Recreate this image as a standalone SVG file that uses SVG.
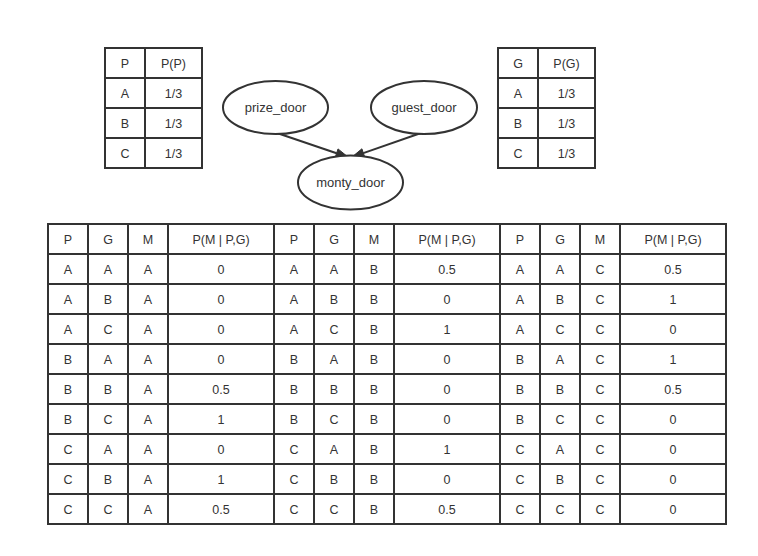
<svg xmlns="http://www.w3.org/2000/svg" width="758" height="556" viewBox="0 0 758 556">
<style>
text{font-family:"Liberation Sans",Arial,sans-serif;font-size:12.5px;fill:#333;text-anchor:middle}
.n text{font-size:13px}
.grid{fill:none;stroke:#333;stroke-width:2}
.node ellipse{fill:#fff;stroke:#333;stroke-width:2}
.edge{stroke:#333;stroke-width:2;fill:none}
.head{fill:#333;stroke:#333;stroke-width:1}
</style>
<rect width="758" height="556" fill="#fff"/>
<g id="connectors">
<line class="edge" x1="277" y1="133" x2="336.6" y2="153.2"/>
<polygon class="head" points="348,157 335.2,157.5 338,148.9"/>
<line class="edge" x1="421" y1="133" x2="363.3" y2="153.1"/>
<polygon class="head" points="352,157 361.9,148.8 364.8,157.3"/>
</g>
<g id="prize_door" class="node n">
<ellipse cx="275.5" cy="107.5" rx="52.5" ry="26.5"/>
<text x="275.5" y="112">prize_door</text>
</g>
<g id="guest_door" class="node n">
<ellipse cx="424" cy="107.5" rx="53" ry="26.5"/>
<text x="424" y="112">guest_door</text>
</g>
<g id="monty_door" class="node n">
<ellipse cx="350.5" cy="182.5" rx="52.5" ry="27"/>
<text x="350.5" y="187">monty_door</text>
</g>
<g id="table_prize">
<path class="grid" d="M105,48H202V168H105Z M145,48V168 M105,78H202 M105,108H202 M105,138H202"/>
<text x="125" y="67.5">P</text><text x="173.5" y="67.5">P(P)</text>
<text x="125" y="97.5">A</text><text x="173.5" y="97.5">1/3</text>
<text x="125" y="127.5">B</text><text x="173.5" y="127.5">1/3</text>
<text x="125" y="157.5">C</text><text x="173.5" y="157.5">1/3</text>
</g>
<g id="table_guest">
<path class="grid" d="M498,48H595V168H498Z M538,48V168 M498,78H595 M498,108H595 M498,138H595"/>
<text x="518" y="67.5">G</text><text x="566.5" y="67.5">P(G)</text>
<text x="518" y="97.5">A</text><text x="566.5" y="97.5">1/3</text>
<text x="518" y="127.5">B</text><text x="566.5" y="127.5">1/3</text>
<text x="518" y="157.5">C</text><text x="566.5" y="157.5">1/3</text>
</g>
<g id="table_monty">
<path class="grid" d="M48,224H726V524H48Z M88,224V524 M128,224V524 M168,224V524 M274,224V524 M314,224V524 M354,224V524 M394,224V524 M500,224V524 M540,224V524 M580,224V524 M620,224V524 M48,254H726 M48,284H726 M48,314H726 M48,344H726 M48,374H726 M48,404H726 M48,434H726 M48,464H726 M48,494H726"/>
<g>
<text x="68" y="243.5">P</text><text x="108" y="243.5">G</text><text x="148" y="243.5">M</text><text x="221" y="243.5">P(M | P,G)</text>
<text x="294" y="243.5">P</text><text x="334" y="243.5">G</text><text x="374" y="243.5">M</text><text x="447" y="243.5">P(M | P,G)</text>
<text x="520" y="243.5">P</text><text x="560" y="243.5">G</text><text x="600" y="243.5">M</text><text x="673" y="243.5">P(M | P,G)</text>
</g>
<g>
<text x="68" y="273.5">A</text><text x="108" y="273.5">A</text><text x="148" y="273.5">A</text><text x="221" y="273.5">0</text>
<text x="294" y="273.5">A</text><text x="334" y="273.5">A</text><text x="374" y="273.5">B</text><text x="447" y="273.5">0.5</text>
<text x="520" y="273.5">A</text><text x="560" y="273.5">A</text><text x="600" y="273.5">C</text><text x="673" y="273.5">0.5</text>
</g>
<g>
<text x="68" y="303.5">A</text><text x="108" y="303.5">B</text><text x="148" y="303.5">A</text><text x="221" y="303.5">0</text>
<text x="294" y="303.5">A</text><text x="334" y="303.5">B</text><text x="374" y="303.5">B</text><text x="447" y="303.5">0</text>
<text x="520" y="303.5">A</text><text x="560" y="303.5">B</text><text x="600" y="303.5">C</text><text x="673" y="303.5">1</text>
</g>
<g>
<text x="68" y="333.5">A</text><text x="108" y="333.5">C</text><text x="148" y="333.5">A</text><text x="221" y="333.5">0</text>
<text x="294" y="333.5">A</text><text x="334" y="333.5">C</text><text x="374" y="333.5">B</text><text x="447" y="333.5">1</text>
<text x="520" y="333.5">A</text><text x="560" y="333.5">C</text><text x="600" y="333.5">C</text><text x="673" y="333.5">0</text>
</g>
<g>
<text x="68" y="363.5">B</text><text x="108" y="363.5">A</text><text x="148" y="363.5">A</text><text x="221" y="363.5">0</text>
<text x="294" y="363.5">B</text><text x="334" y="363.5">A</text><text x="374" y="363.5">B</text><text x="447" y="363.5">0</text>
<text x="520" y="363.5">B</text><text x="560" y="363.5">A</text><text x="600" y="363.5">C</text><text x="673" y="363.5">1</text>
</g>
<g>
<text x="68" y="393.5">B</text><text x="108" y="393.5">B</text><text x="148" y="393.5">A</text><text x="221" y="393.5">0.5</text>
<text x="294" y="393.5">B</text><text x="334" y="393.5">B</text><text x="374" y="393.5">B</text><text x="447" y="393.5">0</text>
<text x="520" y="393.5">B</text><text x="560" y="393.5">B</text><text x="600" y="393.5">C</text><text x="673" y="393.5">0.5</text>
</g>
<g>
<text x="68" y="423.5">B</text><text x="108" y="423.5">C</text><text x="148" y="423.5">A</text><text x="221" y="423.5">1</text>
<text x="294" y="423.5">B</text><text x="334" y="423.5">C</text><text x="374" y="423.5">B</text><text x="447" y="423.5">0</text>
<text x="520" y="423.5">B</text><text x="560" y="423.5">C</text><text x="600" y="423.5">C</text><text x="673" y="423.5">0</text>
</g>
<g>
<text x="68" y="453.5">C</text><text x="108" y="453.5">A</text><text x="148" y="453.5">A</text><text x="221" y="453.5">0</text>
<text x="294" y="453.5">C</text><text x="334" y="453.5">A</text><text x="374" y="453.5">B</text><text x="447" y="453.5">1</text>
<text x="520" y="453.5">C</text><text x="560" y="453.5">A</text><text x="600" y="453.5">C</text><text x="673" y="453.5">0</text>
</g>
<g>
<text x="68" y="483.5">C</text><text x="108" y="483.5">B</text><text x="148" y="483.5">A</text><text x="221" y="483.5">1</text>
<text x="294" y="483.5">C</text><text x="334" y="483.5">B</text><text x="374" y="483.5">B</text><text x="447" y="483.5">0</text>
<text x="520" y="483.5">C</text><text x="560" y="483.5">B</text><text x="600" y="483.5">C</text><text x="673" y="483.5">0</text>
</g>
<g>
<text x="68" y="513.5">C</text><text x="108" y="513.5">C</text><text x="148" y="513.5">A</text><text x="221" y="513.5">0.5</text>
<text x="294" y="513.5">C</text><text x="334" y="513.5">C</text><text x="374" y="513.5">B</text><text x="447" y="513.5">0.5</text>
<text x="520" y="513.5">C</text><text x="560" y="513.5">C</text><text x="600" y="513.5">C</text><text x="673" y="513.5">0</text>
</g>
</g>
</svg>
